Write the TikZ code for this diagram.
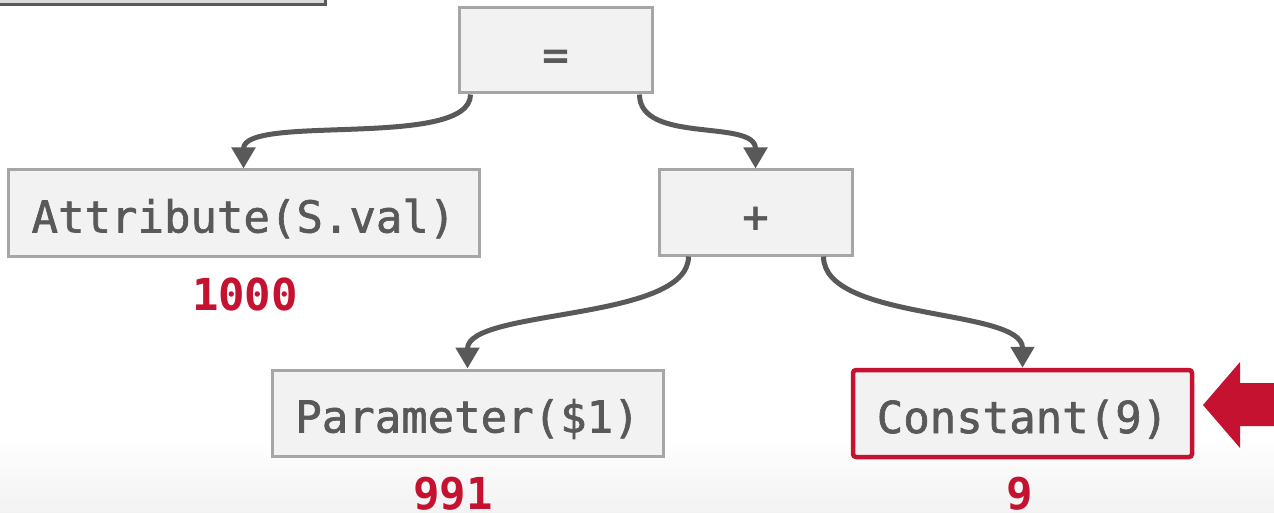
\documentclass[tikz,border=0pt]{standalone}
\usepackage{fontspec}
\setmonofont{DejaVu Sans Mono}
\newfontfamily\boxmono[FakeBold=1.5]{DejaVu Sans Mono}
\usetikzlibrary{arrows.meta,calc}
\definecolor{txtgray}{HTML}{595959}
\definecolor{boxfill}{HTML}{F2F2F2}
\definecolor{boxline}{HTML}{A6A6A6}
\definecolor{hired}{HTML}{C41230}
\definecolor{oldfill}{HTML}{D9D9D9}
\tikzset{
  opbox/.style={draw=boxline, fill=boxfill, line width=3pt, rectangle, inner sep=0pt,
    text height=39pt, text depth=0pt,
    font=\fontsize{44}{44}\selectfont\boxmono, text=txtgray},
  hlbox/.style={opbox, draw=hired, line width=4.5pt, rounded corners=3pt},
  vallabel/.style={font=\fontsize{44}{44}\selectfont\ttfamily\bfseries, text=hired, inner sep=0pt},
  edge/.style={draw=txtgray, line width=5pt, -{Triangle[length=21pt,width=23pt]}}
}
\begin{document}
\begin{tikzpicture}[x=1pt,y=-1pt]
\useasboundingbox (0,0) rectangle (1274,513);
\shade[top color=white, bottom color=black!5] (0,435) rectangle (1274,513);
\begin{scope}
\clip (0,0) rectangle (1274,513);
\draw[draw=txtgray, fill=oldfill, line width=3pt] (-20,-60) rectangle (325.5,4.5);
\end{scope}
\node[opbox, minimum width=193pt, minimum height=85pt] (eq) at (555.5,50.5) {=};
\node[opbox, minimum width=471pt, minimum height=86pt] (attr) at (243.5,213) {Attribute(S.val)};
\node[opbox, minimum width=193pt, minimum height=85pt] (plus) at (755.5,212.5) {+};
\node[opbox, minimum width=391pt, minimum height=86pt] (param) at (467.5,413) {Parameter(\$1)};
\node[hlbox, minimum width=339pt, minimum height=87pt] (const) at (1022.5,413.5) {Constant(9)};
\node[vallabel] (v1) at (245,294) {1000};
\node[vallabel] (v2) at (453,494) {991};
\node[vallabel] (v3) at (1020,494) {9};
\draw[edge] ($(eq.south west)+(13,0)$) .. controls +(0,55) and +(0,-55) .. (attr.north);
\draw[edge] ($(eq.south east)+(-14,0)$) .. controls +(0,50) and +(0,-50) .. (plus.north);
\draw[edge] ($(plus.south west)+(31,0)$) .. controls +(0,65) and +(0,-60) .. (param.north);
\draw[edge] ($(plus.south east)+(-30,0)$) .. controls +(0,65) and +(0,-60) .. (const.north);
\fill[hired] (1203,405) -- (1240,362) -- (1240,383) -- (1280,383) -- (1280,426) -- (1240,426) -- (1240,448) -- cycle;
\end{tikzpicture}
\end{document}
